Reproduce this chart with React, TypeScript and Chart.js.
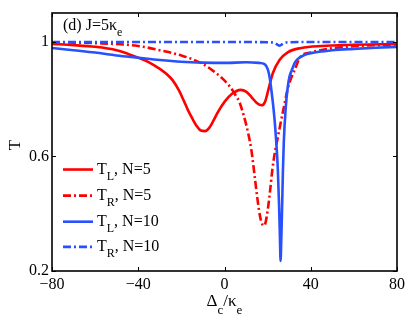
import React, { useEffect, useRef } from 'react';
import { Chart, registerables } from 'chart.js';

Chart.register(...registerables);

// ---- data ----
const X_TICKS = [-80, -40, 0, 40, 80];
const Y_TICKS = [0.2, 0.6, 1];

// T_L, N=5 (red solid)
const TL5_X = [-80, -70, -60, -50, -45, -40, -35, -30, -27, -24, -21, -19, -17, -15, -13, -11, -9, -7, -5, -3, 0, 3.5, 7.5, 10, 12.6, 15, 17.2, 18.8, 20, 22.4, 25.6, 29.3, 35.6, 45, 60, 80];
const TL5_Y = [0.992, 0.988, 0.982, 0.97, 0.958, 0.944, 0.928, 0.905, 0.888, 0.865, 0.828, 0.796, 0.762, 0.733, 0.707, 0.69, 0.688, 0.7, 0.726, 0.755, 0.79, 0.818, 0.832, 0.826, 0.806, 0.786, 0.778, 0.79, 0.822, 0.89, 0.937, 0.963, 0.978, 0.985, 0.989, 0.992];

// T_R, N=5 (red dash-dot)
const TR5_X = [-80, -60, -40, -30, -20, -10, -5.6, -1, 2.3, 5, 7, 9, 11, 12.5, 14, 15.3, 16.5, 17.4, 18.2, 19, 20, 21, 22.3, 23.5, 24.7, 26, 27.5, 29.3, 31, 32.5, 35, 40, 50, 60, 80];
const TR5_Y = [0.998, 0.995, 0.985, 0.97, 0.952, 0.922, 0.9, 0.872, 0.845, 0.815, 0.788, 0.74, 0.68, 0.62, 0.53, 0.45, 0.39, 0.365, 0.358, 0.368, 0.41, 0.47, 0.56, 0.62, 0.665, 0.715, 0.77, 0.835, 0.875, 0.9, 0.945, 0.962, 0.977, 0.984, 0.99];

// T_L, N=10 (blue solid)
const TL10_X = [-80, -70, -60, -50, -40, -30, -20, -10, 0, 10, 16, 18.6, 20, 20.9, 22.3, 23.2, 24, 24.7, 25.3, 25.7, 26, 26.3, 26.7, 27.1, 27.5, 28.4, 29.3, 30.2, 31.2, 32.5, 34, 37.2, 40, 50, 60, 70, 80];
const TL10_Y = [0.978, 0.97, 0.962, 0.952, 0.944, 0.936, 0.93, 0.927, 0.926, 0.928, 0.926, 0.922, 0.905, 0.877, 0.796, 0.73, 0.65, 0.56, 0.43, 0.32, 0.235, 0.3, 0.42, 0.55, 0.65, 0.77, 0.84, 0.88, 0.9, 0.925, 0.94, 0.954, 0.96, 0.97, 0.975, 0.979, 0.982];

// T_R, N=10 (blue dash-dot)
const TR10_X = [-80, -40, 0, 20, 23, 24.5, 25.5, 26.5, 28, 30, 40, 80];
const TR10_Y = [0.999, 0.999, 0.999, 0.998, 0.996, 0.99, 0.986, 0.99, 0.996, 0.998, 0.999, 0.999];

const RED = '#ff0000';
const BLUE = '#2850ff';
const DASHDOT = [8, 3, 2, 3];
const FONT = '"Liberation Serif", "Times New Roman", serif';

Chart.defaults.font.family = FONT;

const LEGEND_ITEMS = [
  { main: 'T', sub: 'L', rest: ', N=5', color: RED, dash: [] as number[] },
  { main: 'T', sub: 'R', rest: ', N=5', color: RED, dash: DASHDOT },
  { main: 'T', sub: 'L', rest: ', N=10', color: BLUE, dash: [] as number[] },
  { main: 'T', sub: 'R', rest: ', N=10', color: BLUE, dash: DASHDOT },
];

type Part = { t: string; sub?: boolean };

function richWidth(ctx: CanvasRenderingContext2D, parts: Part[], size: number, subSize: number) {
  let w = 0;
  for (const p of parts) {
    ctx.font = `${p.sub ? subSize : size}px ${FONT}`;
    w += ctx.measureText(p.t).width;
  }
  return w;
}

function drawRich(ctx: CanvasRenderingContext2D, parts: Part[], x: number, y: number, size: number, subSize: number, subDy: number) {
  let cx = x;
  ctx.textBaseline = 'alphabetic';
  ctx.textAlign = 'left';
  for (const p of parts) {
    ctx.font = `${p.sub ? subSize : size}px ${FONT}`;
    ctx.fillText(p.t, cx, p.sub ? y + subDy : y);
    cx += ctx.measureText(p.t).width;
  }
}

const framePlugin = {
  id: 'frameAndText',
  afterDraw(chart: any) {
    const ctx: CanvasRenderingContext2D = chart.ctx;
    const { left, right, top, bottom } = chart.chartArea;
    const xs = chart.scales.x;
    const ys = chart.scales.y;
    ctx.save();
    ctx.strokeStyle = '#000';
    ctx.fillStyle = '#000';
    // inward ticks
    ctx.lineWidth = 1;
    const tl = 4;
    ctx.beginPath();
    for (const v of X_TICKS) {
      const px = Math.round(xs.getPixelForValue(v)) + 0.5;
      ctx.moveTo(px, bottom); ctx.lineTo(px, bottom - tl);
      ctx.moveTo(px, top); ctx.lineTo(px, top + tl);
    }
    for (const v of Y_TICKS) {
      const py = Math.round(ys.getPixelForValue(v)) + 0.5;
      ctx.moveTo(left, py); ctx.lineTo(left + tl, py);
      ctx.moveTo(right, py); ctx.lineTo(right - tl, py);
    }
    ctx.stroke();
    // frame
    ctx.lineWidth = 1.6;
    ctx.strokeRect(left, top, right - left, bottom - top);

    // panel label
    drawRich(ctx, [{ t: '(d) J=5κ' }, { t: 'e', sub: true }], left + 11, top + 17, 16, 12, 6);

    // legend
    const lx0 = left + 11;
    const lx1 = left + 41;
    const tx = left + 45;
    const rowY = [ys.getPixelForValue(0.554), ys.getPixelForValue(0.463), ys.getPixelForValue(0.372), ys.getPixelForValue(0.284)];
    LEGEND_ITEMS.forEach((it, i) => {
      const y = rowY[i];
      ctx.save();
      ctx.strokeStyle = it.color;
      ctx.lineWidth = 2.6;
      ctx.setLineDash(it.dash);
      ctx.beginPath();
      ctx.moveTo(lx0, y);
      ctx.lineTo(lx1, y);
      ctx.stroke();
      ctx.restore();
      drawRich(ctx, [{ t: it.main }, { t: it.sub, sub: true }, { t: it.rest }], tx, y + 4, 16, 12, 6);
    });

    // x-axis title
    const xParts: Part[] = [{ t: 'Δ' }, { t: 'c', sub: true }, { t: '/κ' }, { t: 'e', sub: true }];
    const w = richWidth(ctx, xParts, 17, 13);
    const cx = (left + right) / 2;
    drawRich(ctx, xParts, cx - w / 2, 306, 17, 13, 8);

    // y-axis title
    ctx.save();
    ctx.translate(20, (top + bottom) / 2 + 3);
    ctx.rotate(-Math.PI / 2);
    ctx.font = `17px ${FONT}`;
    ctx.textAlign = 'center';
    ctx.textBaseline = 'alphabetic';
    ctx.fillText('T', 0, 0);
    ctx.restore();

    ctx.restore();
  },
};

function pts(xs: number[], ys: number[]) {
  return xs.map((x, i) => ({ x, y: ys[i] }));
}

export default function App() {
  const ref = useRef<HTMLCanvasElement>(null);
  useEffect(() => {
    if (!ref.current) return;
    const common = {
      pointRadius: 0,
      borderWidth: 2.6,
      fill: false,
      cubicInterpolationMode: 'monotone' as const,
      borderCapStyle: 'butt' as const,
    };
    const chart = new Chart(ref.current, {
      type: 'line',
      data: {
        datasets: [
          { ...common, label: 'T_L, N=5', data: pts(TL5_X, TL5_Y), borderColor: RED, order: 4 },
          { ...common, label: 'T_R, N=5', data: pts(TR5_X, TR5_Y), borderColor: RED, borderDash: DASHDOT, order: 3 },
          { ...common, label: 'T_L, N=10', data: pts(TL10_X, TL10_Y), borderColor: BLUE, order: 2 },
          { ...common, label: 'T_R, N=10', data: pts(TR10_X, TR10_Y), borderColor: BLUE, borderDash: DASHDOT, order: 1 },
        ],
      },
      options: {
        animation: false,
        responsive: false,
        devicePixelRatio: 1,
        layout: { padding: { left: 0, right: 12, top: 13, bottom: 0 } },
        plugins: { legend: { display: false }, tooltip: { enabled: false } },
        scales: {
          x: {
            type: 'linear',
            min: -80,
            max: 80,
            afterBuildTicks: (s: any) => { s.ticks = X_TICKS.map((v) => ({ value: v })); },
            afterFit: (s: any) => { s.height = 50; },
            grid: { display: false, drawTicks: false },
            border: { display: false },
            ticks: {
              color: '#000',
              font: { family: FONT, size: 16 },
              padding: 4,
              maxRotation: 0,
              autoSkip: false,
              callback: (v: any) => String(v).replace('-', '\u2212'),
            },
          },
          y: {
            type: 'linear',
            min: 0.2,
            max: 1.1,
            afterBuildTicks: (s: any) => { s.ticks = Y_TICKS.map((v) => ({ value: v })); },
            afterFit: (s: any) => { s.width = 52; },
            grid: { display: false, drawTicks: false },
            border: { display: false },
            ticks: {
              color: '#000',
              font: { family: FONT, size: 16 },
              padding: 3,
              autoSkip: false,
              callback: (v: any) => String(v),
            },
          },
        },
      },
      plugins: [framePlugin],
    });
    return () => chart.destroy();
  }, []);
  return (
    <div style={{ position: 'fixed', left: 0, top: 0, width: 409, height: 321, background: '#fff' }}>
      <canvas ref={ref} width={409} height={321} style={{ display: 'block' }} />
    </div>
  );
}
